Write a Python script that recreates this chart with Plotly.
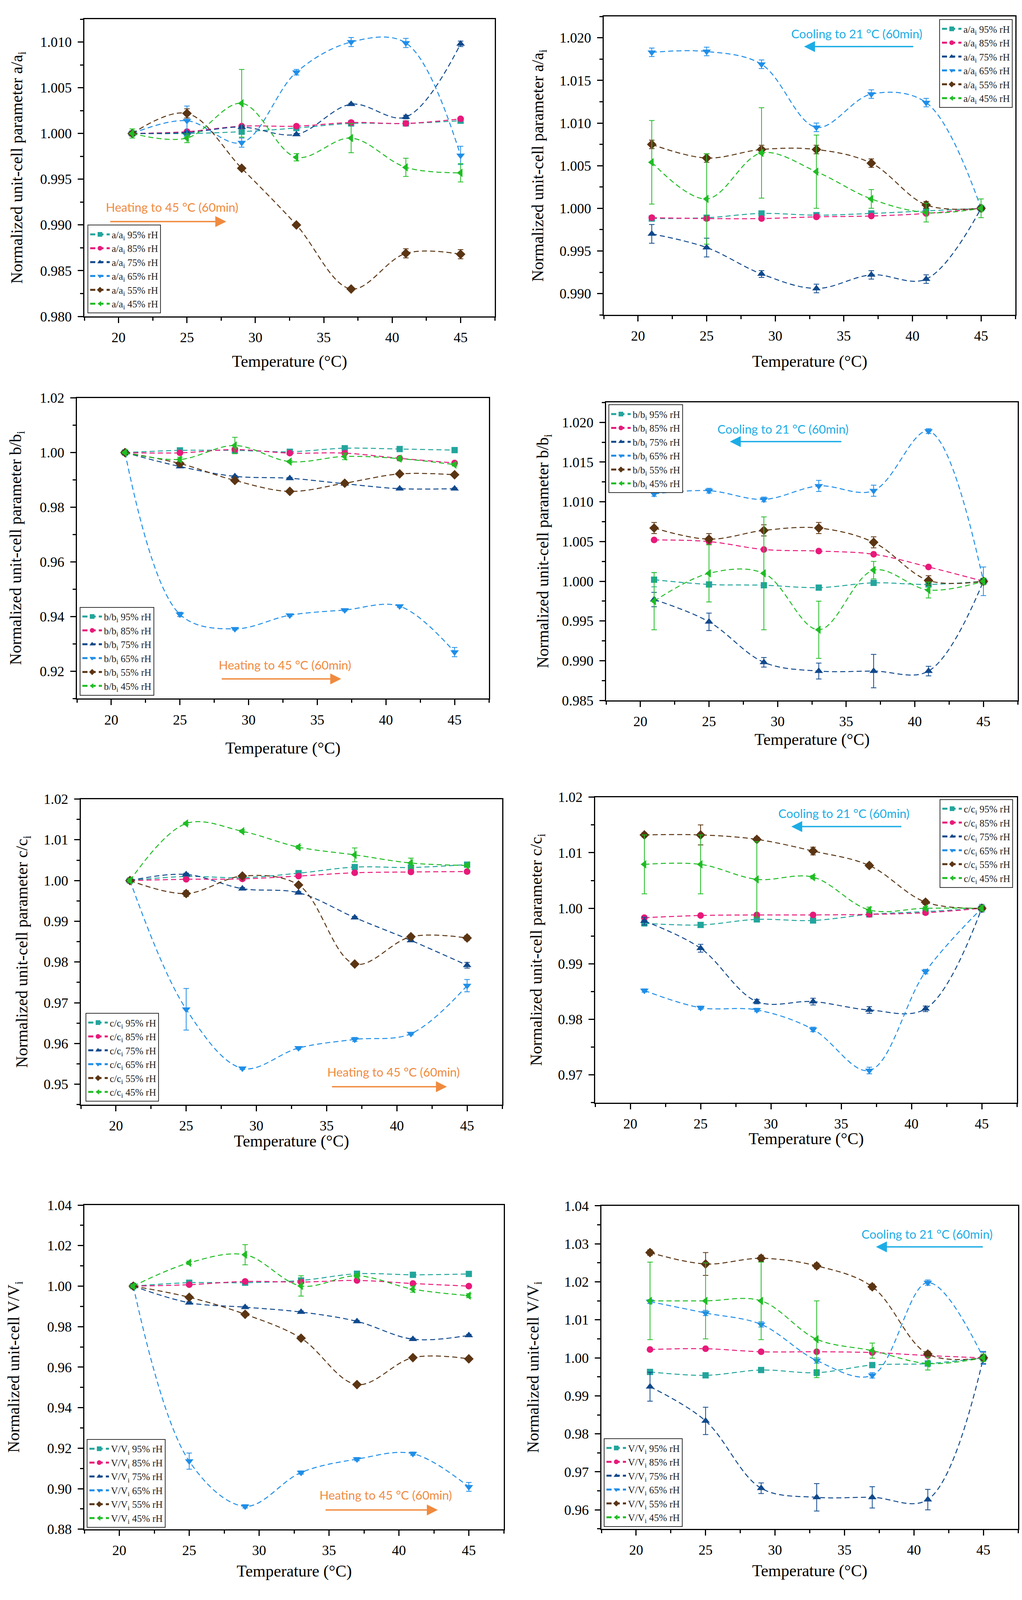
import plotly.graph_objects as go

W, H = 2617, 4179

temps = [21, 25, 29, 33, 37, 41, 45]
rh_labels = ["95% rH", "85% rH", "75% rH", "65% rH", "55% rH", "45% rH"]

# a/ai, heating then cooling (rows: 95, 85, 75, 65, 55, 45 % rH)
a_heat = [
    [1.0000, 1.0000, 1.0002, 1.0006, 1.0011, 1.0011, 1.0014],
    [1.0000, 1.0002, 1.0008, 1.0008, 1.0012, 1.0011, 1.0016],
    [1.0000, 1.0001, 1.0007, 0.9999, 1.0032, 1.0018, 1.0098],
    [1.0000, 1.0014, 0.9990, 1.0067, 1.0100, 1.0099, 0.9976],
    [1.0000, 1.0022, 0.9962, 0.9900, 0.9830, 0.9869, 0.9868],
    [1.0000, 0.9995, 1.0033, 0.9974, 0.9995, 0.9963, 0.9957],
]
a_heat_err = [
    [0.0002, 0.0001, 0.0002, 0.0001, 0.0001, 0.0001, 0.0002],
    [0.0002, 0.0001, 0.0001, 0.0001, 0.0001, 0.0001, 0.0001],
    [0.0001, 0.0001, 0.0001, 0.0001, 0.0001, 0.0002, 0.0003],
    [0.0002, 0.0016, 0.0005, 0.0003, 0.0005, 0.0005, 0.0010],
    [0.0002, 0.0005, 0.0002, 0.0001, 0.0002, 0.0005, 0.0005],
    [0.0005, 0.0005, 0.0037, 0.0004, 0.0016, 0.0010, 0.0010],
]
a_cool = [
    [0.9988, 0.9989, 0.9994, 0.9992, 0.9994, 0.9997, 1.0000],
    [0.9989, 0.9988, 0.9988, 0.9990, 0.9991, 0.9994, 1.0000],
    [0.9970, 0.9954, 0.9923, 0.9906, 0.9922, 0.9917, 1.0000],
    [1.0183, 1.0184, 1.0169, 1.0095, 1.0134, 1.0124, 1.0000],
    [1.0075, 1.0059, 1.0069, 1.0069, 1.0053, 1.0004, 1.0000],
    [1.0054, 1.0011, 1.0065, 1.0043, 1.0011, 0.9995, 1.0000],
]
a_cool_err = [
    [0.0001, 0.0001, 0.0001, 0.0001, 0.0001, 0.0001, 0.0002],
    [0.0001, 0.0001, 0.0001, 0.0001, 0.0001, 0.0001, 0.0001],
    [0.0011, 0.0011, 0.0004, 0.0005, 0.0005, 0.0005, 0.0003],
    [0.0005, 0.0005, 0.0005, 0.0005, 0.0005, 0.0005, 0.0003],
    [0.0005, 0.0005, 0.0005, 0.0005, 0.0005, 0.0004, 0.0002],
    [0.0049, 0.0053, 0.0053, 0.0043, 0.0011, 0.0011, 0.0011],
]

# b/bi
b_heat = [
    [1.0000, 1.0008, 1.0008, 1.0003, 1.0016, 1.0013, 1.0009],
    [1.0000, 0.9999, 1.0011, 0.9998, 0.9998, 0.9979, 0.9962],
    [1.0000, 0.9949, 0.9913, 0.9906, 0.9886, 0.9868, 0.9868],
    [1.0000, 0.9408, 0.9355, 0.9405, 0.9424, 0.9438, 0.9270],
    [1.0000, 0.9960, 0.9898, 0.9858, 0.9888, 0.9922, 0.9919],
    [1.0000, 0.9975, 1.0026, 0.9967, 0.9986, 0.9978, 0.9956],
]
b_heat_err = [
    [0.0003, 0.0003, 0.0003, 0.0003, 0.0003, 0.0003, 0.0003],
    [0.0003, 0.0003, 0.0003, 0.0003, 0.0003, 0.0003, 0.0003],
    [0.0003, 0.0003, 0.0003, 0.0003, 0.0003, 0.0003, 0.0003],
    [0.0003, 0.0008, 0.0004, 0.0004, 0.0004, 0.0004, 0.0017],
    [0.0003, 0.0003, 0.0003, 0.0003, 0.0003, 0.0003, 0.0003],
    [0.0003, 0.0008, 0.0030, 0.0003, 0.0012, 0.0008, 0.0005],
]
b_cool = [
    [1.0002, 0.9996, 0.9995, 0.9992, 0.9998, 0.9996, 1.0000],
    [1.0052, 1.0050, 1.0040, 1.0038, 1.0034, 1.0018, 1.0000],
    [0.9977, 0.9949, 0.9898, 0.9887, 0.9887, 0.9887, 1.0000],
    [1.0110, 1.0114, 1.0103, 1.0120, 1.0114, 1.0189, 1.0000],
    [1.0067, 1.0053, 1.0064, 1.0067, 1.0049, 1.0001, 1.0000],
    [0.9975, 1.0010, 1.0010, 0.9939, 1.0014, 0.9989, 1.0000],
]
b_cool_err = [
    [0.0009, 0.0001, 0.0001, 0.0001, 0.0001, 0.0001, 0.0001],
    [0.0001, 0.0001, 0.0001, 0.0001, 0.0001, 0.0001, 0.0001],
    [0.0009, 0.0011, 0.0006, 0.0010, 0.0021, 0.0006, 0.0003],
    [0.0003, 0.0003, 0.0003, 0.0007, 0.0007, 0.0003, 0.0018],
    [0.0007, 0.0007, 0.0007, 0.0007, 0.0007, 0.0006, 0.0004],
    [0.0036, 0.0036, 0.0071, 0.0036, 0.0011, 0.0010, 0.0004],
]

# c/ci
c_heat = [
    [1.0000, 1.0010, 1.0007, 1.0018, 1.0033, 1.0032, 1.0039],
    [1.0000, 1.0003, 1.0004, 1.0011, 1.0019, 1.0021, 1.0022],
    [1.0000, 1.0015, 0.9980, 0.9970, 0.9909, 0.9853, 0.9792],
    [1.0000, 0.9684, 0.9539, 0.9589, 0.9610, 0.9624, 0.9742],
    [1.0000, 0.9968, 1.0011, 0.9989, 0.9795, 0.9862, 0.9859],
    [1.0000, 1.0140, 1.0121, 1.0082, 1.0063, 1.0043, 1.0037],
]
c_heat_err = [
    [0.0003, 0.0003, 0.0003, 0.0003, 0.0003, 0.0003, 0.0005],
    [0.0003, 0.0003, 0.0003, 0.0003, 0.0003, 0.0003, 0.0003],
    [0.0003, 0.0003, 0.0003, 0.0003, 0.0003, 0.0003, 0.0007],
    [0.0003, 0.0051, 0.0003, 0.0003, 0.0005, 0.0003, 0.0015],
    [0.0003, 0.0007, 0.0003, 0.0003, 0.0003, 0.0005, 0.0006],
    [0.0005, 0.0003, 0.0003, 0.0004, 0.0017, 0.0012, 0.0004],
]
c_cool = [
    [0.9973, 0.9970, 0.9980, 0.9978, 0.9989, 0.9994, 1.0000],
    [0.9983, 0.9987, 0.9988, 0.9988, 0.9989, 0.9992, 1.0000],
    [0.9977, 0.9928, 0.9832, 0.9832, 0.9817, 0.9819, 1.0000],
    [0.9852, 0.9821, 0.9817, 0.9782, 0.9708, 0.9886, 1.0000],
    [1.0132, 1.0132, 1.0124, 1.0103, 1.0077, 1.0011, 1.0000],
    [1.0079, 1.0079, 1.0052, 1.0056, 0.9997, 1.0000, 1.0000],
]
c_cool_err = [
    [0.0005, 0.0002, 0.0003, 0.0002, 0.0002, 0.0002, 0.0004],
    [0.0003, 0.0002, 0.0002, 0.0002, 0.0002, 0.0002, 0.0002],
    [0.0007, 0.0007, 0.0004, 0.0006, 0.0006, 0.0005, 0.0003],
    [0.0003, 0.0003, 0.0003, 0.0004, 0.0006, 0.0004, 0.0007],
    [0.0004, 0.0018, 0.0004, 0.0007, 0.0004, 0.0004, 0.0002],
    [0.0053, 0.0053, 0.0068, 0.0003, 0.0005, 0.0003, 0.0005],
]

# V/Vi
v_heat = [
    [1.0000, 1.0017, 1.0017, 1.0028, 1.0061, 1.0056, 1.0060],
    [1.0000, 1.0007, 1.0023, 1.0020, 1.0028, 1.0013, 1.0000],
    [1.0000, 0.9918, 0.9896, 0.9872, 0.9826, 0.9738, 0.9757],
    [1.0000, 0.9136, 0.8913, 0.9080, 0.9146, 0.9173, 0.9009],
    [1.0000, 0.9945, 0.9861, 0.9743, 0.9514, 0.9647, 0.9641],
    [1.0000, 1.0115, 1.0155, 1.0001, 1.0051, 0.9985, 0.9953],
]
v_heat_err = [
    [0.0005, 0.0005, 0.0005, 0.0005, 0.0005, 0.0005, 0.0005],
    [0.0005, 0.0005, 0.0005, 0.0005, 0.0005, 0.0005, 0.0005],
    [0.0005, 0.0005, 0.0005, 0.0005, 0.0005, 0.0005, 0.0005],
    [0.0005, 0.0040, 0.0008, 0.0008, 0.0008, 0.0008, 0.0022],
    [0.0005, 0.0005, 0.0005, 0.0005, 0.0005, 0.0005, 0.0005],
    [0.0008, 0.0008, 0.0050, 0.0050, 0.0008, 0.0015, 0.0010],
]
v_cool = [
    [0.9963, 0.9954, 0.9968, 0.9961, 0.9981, 0.9985, 1.0000],
    [1.0022, 1.0024, 1.0016, 1.0016, 1.0014, 1.0006, 1.0000],
    [0.9924, 0.9834, 0.9657, 0.9633, 0.9633, 0.9627, 1.0000],
    [1.0148, 1.0118, 1.0088, 0.9993, 0.9954, 1.0198, 1.0000],
    [1.0277, 1.0247, 1.0262, 1.0242, 1.0187, 1.0010, 1.0000],
    [1.0150, 1.0150, 1.0150, 1.0049, 1.0019, 0.9985, 1.0000],
]
v_cool_err = [
    [0.0005, 0.0003, 0.0003, 0.0008, 0.0003, 0.0003, 0.0005],
    [0.0003, 0.0003, 0.0003, 0.0003, 0.0003, 0.0003, 0.0003],
    [0.0038, 0.0036, 0.0014, 0.0036, 0.0028, 0.0027, 0.0015],
    [0.0005, 0.0007, 0.0007, 0.0007, 0.0007, 0.0007, 0.0017],
    [0.0007, 0.0030, 0.0008, 0.0007, 0.0007, 0.0007, 0.0007],
    [0.0102, 0.0100, 0.0102, 0.0101, 0.0020, 0.0017, 0.0010],
]

colors = ["#22a59c", "#e8197a", "#10498c", "#1f8ee8", "#5b3513", "#1fbd24"]
symbols = ["square", "circle", "triangle-up", "triangle-down", "diamond", "triangle-left"]
marker_sizes = [16, 17, 19, 19, 19, 19]

HEAT_COLOR = "#f08a3e"
COOL_COLOR = "#1cade6"
SERIF = "Liberation Serif"

# boxes in picture pixels: left, right, top, bottom; xt = x-title y, yt = y-title x
panels = [
    dict(vals=a_heat, errs=a_heat_err, name="a/a", box=(216, 1267, 31, 815),
         yr=(0.980, 1.0125), dt=0.005, fmt=".3f", ytitle="parameter a/a",
         leg=("bl", 224, 807), heat=True, note=(23.9, 0.99194), arrow=(19.35, 27.87, 0.99037),
         xt=934, yt=46),
    dict(vals=a_cool, errs=a_cool_err, name="a/a", box=(1546, 2600, 24, 811),
         yr=(0.9875, 1.0225), dt=0.005, fmt=".3f", ytitle="parameter a/a",
         leg=("tr", 2593, 31), heat=False, note=(35.93, 1.0205), arrow=(40.1, 32.1, 1.01897),
         xt=934, yt=1380),
    dict(vals=b_heat, errs=b_heat_err, name="b/b", box=(197, 1252, 1030, 1823),
         yr=(0.910, 1.020), dt=0.02, fmt=".2f", ytitle="parameter b/b",
         leg=("bl", 204, 1815), heat=True, note=(32.64, 0.9224), arrow=(28.0, 36.74, 0.9172),
         xt=1954, yt=43),
    dict(vals=b_cool, errs=b_cool_err, name="b/b", box=(1552, 2606, 1042, 1828),
         yr=(0.985, 1.0225), dt=0.005, fmt=".3f", ytitle="parameter b/b",
         leg=("tl", 1558, 1047), heat=False, note=(30.39, 1.01916), arrow=(34.69, 26.52, 1.01758),
         xt=1931, yt=1393),
    dict(vals=c_heat, errs=c_heat_err, name="c/c", box=(207, 1286, 2088, 2894),
         yr=(0.945, 1.020), dt=0.01, fmt=".2f", ytitle="parameter c/c",
         leg=("bl", 219, 2886), heat=True, note=(39.76, 0.953), arrow=(35.34, 43.56, 0.9494),
         xt=2991, yt=59),
    dict(vals=c_cool, errs=c_cool_err, name="c/c", box=(1524, 2604, 2083, 2889),
         yr=(0.965, 1.020), dt=0.01, fmt=".2f", ytitle="parameter c/c",
         leg=("tr", 2594, 2088), heat=False, note=(35.2, 1.0171), arrow=(39.32, 31.45, 1.0147),
         xt=2984, yt=1376),
    dict(vals=v_heat, errs=v_heat_err, name="V/V", box=(216, 1290, 3159, 4014),
         yr=(0.880, 1.040), dt=0.02, fmt=".2f", ytitle="V/V",
         leg=("bl", 222, 4010), heat=True, note=(39.04, 0.897), arrow=(34.71, 42.78, 0.8895),
         xt=4125, yt=38),
    dict(vals=v_cool, errs=v_cool_err, name="V/V", box=(1540, 2607, 3161, 4013),
         yr=(0.955, 1.040), dt=0.01, fmt=".2f", ytitle="V/V",
         leg=("bl", 1546, 4008), heat=False, note=(40.96, 1.0326), arrow=(45.0, 37.27, 1.0292),
         xt=4124, yt=1368),
]

fig = go.Figure()
layout = {}
annotations = []

for i, p in enumerate(panels, start=1):
    sfx = "" if i == 1 else str(i)
    xref, yref = "x" + sfx, "y" + sfx
    legname = "legend" + sfx

    for k in range(6):
        fig.add_trace(go.Scatter(
            x=temps, y=p["vals"][k],
            mode="lines+markers",
            name=f"{p['name']}<sub>i</sub> {rh_labels[k]}",
            line=dict(color=colors[k], width=2.5, dash="13px,8px", shape="spline", smoothing=1.0),
            marker=dict(symbol=symbols[k], size=marker_sizes[k], color=colors[k]),
            error_y=dict(type="data", array=p["errs"][k], visible=True,
                         color=colors[k], thickness=2, width=7),
            xaxis=xref, yaxis=yref, legend=legname,
        ))

    left, right, top, bottom = p["box"]
    layout["xaxis" + sfx] = dict(
        domain=[left / W, right / W], anchor=yref,
        range=[17.5, 47.5], tick0=20, dtick=5,
        showline=True, mirror=True, linecolor="black", linewidth=3,
        ticks="outside", ticklen=14, tickwidth=3, tickcolor="black",
        ticklabelstandoff=6,
        minor=dict(ticks="outside", ticklen=8, tickwidth=2.5, tickcolor="black",
                   tick0=17.5, dtick=2.5, showgrid=False),
        showgrid=False, zeroline=False,
        tickfont=dict(family=SERIF, size=36, color="black"),
    )
    layout["yaxis" + sfx] = dict(
        domain=[1 - bottom / H, 1 - top / H], anchor=xref,
        range=list(p["yr"]), tick0=1.0, dtick=p["dt"], tickformat=p["fmt"],
        showline=True, mirror=True, linecolor="black", linewidth=3,
        ticks="outside", ticklen=14, tickwidth=3, tickcolor="black",
        ticklabelstandoff=8,
        minor=dict(ticks="outside", ticklen=8, tickwidth=2.5, tickcolor="black",
                   tick0=1.0, dtick=p["dt"] / 2, showgrid=False),
        showgrid=False, zeroline=False,
        tickfont=dict(family=SERIF, size=36, color="black"),
    )

    # axis titles, placed where the reference has them
    annotations.append(dict(
        x=(left + right) / 2 / W, y=1 - p["xt"] / H, xref="paper", yref="paper",
        xanchor="center", yanchor="middle", showarrow=False,
        text="Temperature (°C)", font=dict(family=SERIF, size=42, color="black"),
    ))
    annotations.append(dict(
        x=p["yt"] / W, y=1 - (top + bottom) / 2 / H, xref="paper", yref="paper",
        xanchor="center", yanchor="middle", showarrow=False, textangle=-90,
        text="Normalized unit-cell " + p["ytitle"] + "<sub>i</sub>",
        font=dict(family=SERIF, size=42, color="black"),
    ))

    corner, lx, ly = p["leg"]
    layout[legname] = dict(
        x=lx / W, y=1 - ly / H,
        xanchor="right" if corner[1] == "r" else "left",
        yanchor="bottom" if corner[0] == "b" else "top",
        bgcolor="white", bordercolor="#333333", borderwidth=2,
        font=dict(family=SERIF, size=25, color="#222222"),
        itemwidth=50, itemsizing="constant", tracegroupgap=0,
    )

    hue = HEAT_COLOR if p["heat"] else COOL_COLOR
    label = "Heating to 45 °C (60min)" if p["heat"] else "Cooling to 21 °C (60min)"
    tx, ty = p["note"]
    annotations.append(dict(
        x=tx, y=ty, xref=xref, yref=yref, text=label, showarrow=False,
        font=dict(family="Lato", size=31, color=hue),
    ))
    x0, x1, ya = p["arrow"]
    annotations.append(dict(
        x=x1, y=ya, ax=x0, ay=ya, xref=xref, yref=yref, axref=xref, ayref=yref,
        text="", showarrow=True, arrowhead=2, arrowsize=1.6, arrowwidth=3.5,
        arrowcolor=hue,
    ))

fig.update_layout(
    width=W, height=H,
    margin=dict(l=0, r=0, t=0, b=0),
    paper_bgcolor="white", plot_bgcolor="white",
    showlegend=True,
    annotations=annotations,
    **layout,
)

# the visible page area is a bit shorter than the window, so size the
# figure to it (everything above is laid out in fractions of the figure)
fit_to_window = (
    "document.body.style.margin = '0';"
    "var gd = document.getElementById('{plot_id}');"
    "Plotly.relayout(gd, {width: window.innerWidth, height: window.innerHeight});"
)

fig.write_html("out.html", post_script=fit_to_window,
               config={"displayModeBar": False})
